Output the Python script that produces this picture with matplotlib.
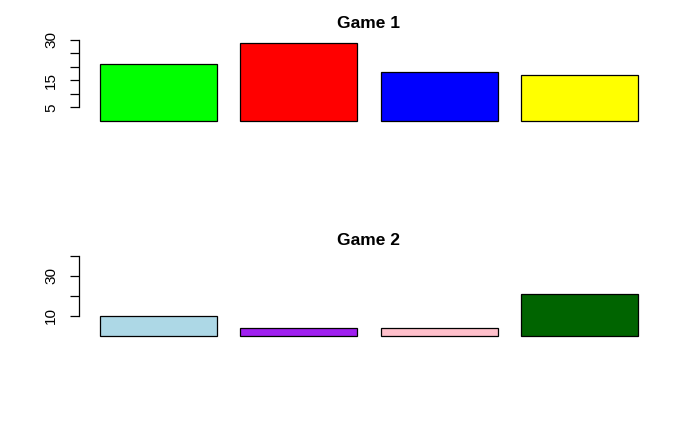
import matplotlib
matplotlib.use("Agg")
import matplotlib.pyplot as plt

plt.rcParams['font.family'] = ['Liberation Sans', 'DejaVu Sans']

# data
game1_values = [21, 29, 18, 17]
game1_colors = ['#00FF00', '#FF0000', '#0000FF', '#FFFF00']
game1_ticks = [5, 10, 15, 20, 25, 30]
game1_labels = ['5', '', '15', '', '', '30']

game2_values = [10, 4, 4, 21]
game2_colors = ['#ADD8E6', '#A020F0', '#FFC0CB', '#006400']
game2_ticks = [10, 20, 30, 40]
game2_labels = ['10', '', '30', '']

W, H = 700, 432
fig = plt.figure(figsize=(7, 4.32), dpi=100)


def px_axes(left, top, right, bottom):
    return fig.add_axes([left / W, 1 - bottom / H, (right - left) / W, (bottom - top) / H])


def draw_panel(ax, title, values, colors, ticks, labels, ylim):
    # bar layout like R barplot: width 1, space 0.2
    lefts = [0.2 + i * 1.2 for i in range(len(values))]
    ax.bar(lefts, values, width=1.0, align='edge', color=colors,
           edgecolor='black', linewidth=0.9, clip_on=False)
    span = 4.8 - 0.2
    ax.set_xlim(0.2 - 0.04 * span, 4.8 + 0.04 * span)
    ax.set_ylim(*ylim)
    for s in ['top', 'right', 'bottom']:
        ax.spines[s].set_visible(False)
    ax.spines['left'].set_bounds(ticks[0], ticks[-1])
    ax.spines['left'].set_linewidth(0.9)
    ax.set_xticks([])
    ax.set_yticks(ticks)
    ax.set_yticklabels(labels, rotation=90, va='center')
    ax.tick_params(axis='y', length=6.5, width=0.9, pad=8, labelsize=11)
    ax.set_title(title, fontweight='bold', fontsize=12.5, pad=6.5)


ax1 = px_axes(78.5, 37.3, 659.5, 110)
draw_panel(ax1, 'Game 1', game1_values, game1_colors, game1_ticks, game1_labels, (4, 31))

ax2 = px_axes(78.5, 253.6, 659.5, 318.4)
draw_panel(ax2, 'Game 2', game2_values, game2_colors, game2_ticks, game2_labels, (8.8, 41.2))

fig.savefig('out.png', dpi=100)
